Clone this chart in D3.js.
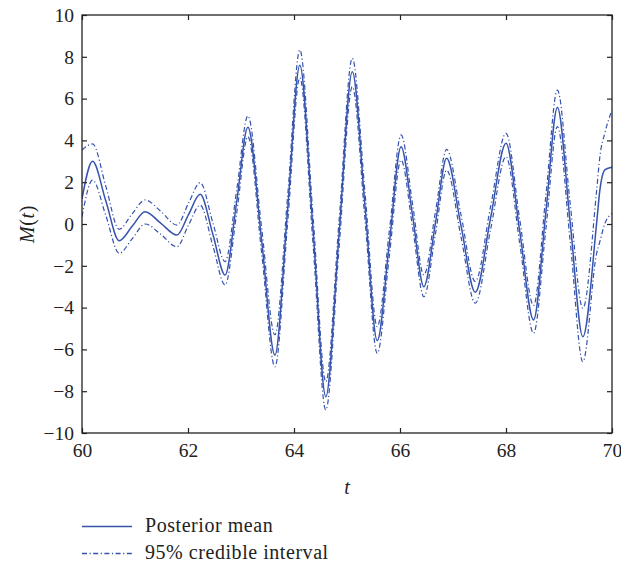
<!DOCTYPE html>
<html><head><meta charset="utf-8">
<script src="https://cdn.jsdelivr.net/npm/d3@7"></script>
<style>
html,body{margin:0;padding:0;background:#fff;}
svg{display:block;}
text{font-family:"Liberation Serif","DejaVu Serif",serif;fill:#222;}
</style></head>
<body>
<svg id="chart" width="621" height="565"></svg>
<script>
// time points (t)
const tValues = [60.00,60.20,60.45,60.70,60.95,61.19,61.49,61.79,62.01,62.23,62.47,62.70,62.92,63.13,63.39,63.64,63.88,64.11,64.36,64.60,64.85,65.10,65.34,65.57,65.80,66.02,66.24,66.45,66.67,66.88,67.15,67.42,67.71,68.00,68.26,68.52,68.75,68.97,69.21,69.45,69.71,69.77,69.87,70.00];
// posterior mean M(t)
const meanValues = [1.2,3.0,1.1,-0.8,-0.1,0.59,0.03,-0.53,0.45,1.42,-0.5,-2.44,1.1,4.63,-0.8,-6.27,0.7,7.6,-0.3,-8.26,-0.5,7.29,0.85,-5.58,-0.9,3.7,0.35,-3.0,0.07,3.14,-0.07,-3.27,0.3,3.86,-0.37,-4.59,0.5,5.58,0.1,-5.39,0.05,1.6,2.6,2.72];
// 95% credible interval, upper bound
const upperValues = [3.54,3.83,1.8,-0.25,0.5,1.15,0.6,-0.05,1.0,1.98,0.05,-1.8,1.65,5.17,-0.2,-5.3,1.35,8.33,0.35,-7.55,0.15,7.93,1.5,-4.91,-0.3,4.26,0.9,-2.44,0.6,3.57,0.45,-2.75,0.85,4.34,0.2,-3.9,1.3,6.41,1.0,-4.03,1.6,3.2,4.4,5.45];
// 95% credible interval, lower bound
const lowerValues = [0.35,2.1,0.4,-1.4,-0.7,0.0,-0.5,-1.09,-0.05,0.9,-1.05,-2.92,0.55,4.18,-1.4,-6.83,0.05,7.0,-1.0,-8.9,-1.15,6.57,0.2,-6.19,-1.5,3.06,-0.2,-3.48,-0.45,2.58,-0.6,-3.79,-0.25,3.22,-0.95,-5.23,-0.3,4.66,-0.8,-6.59,-1.4,-0.85,0.05,0.5];
const xTicks = [60,62,64,66,68,70];
const yTicks = [-10,-8,-6,-4,-2,0,2,4,6,8,10];
const legendLabels = ["Posterior mean","95% credible interval"];

const color = "#3653ad";
const serif = "'Liberation Serif', serif";
const m = {left:82, right:612, top:15, bottom:433};
const svg = d3.select("#chart");
const x = d3.scaleLinear().domain([60,70]).range([m.left,m.right]);
const y = d3.scaleLinear().domain([-10,10]).range([m.bottom,m.top]);

svg.append("clipPath").attr("id","clip").append("rect")
  .attr("x",m.left).attr("y",m.top).attr("width",m.right-m.left).attr("height",m.bottom-m.top);

function series(vals){ return tValues.map((t,i)=>[t,vals[i]]); }
const line = d3.line().x(d=>x(d[0])).y(d=>y(d[1])).curve(d3.curveMonotoneX);
const dash = "5,2.5,1.2,2.5";
const g = svg.append("g").attr("clip-path","url(#clip)");
g.append("path").datum(series(upperValues)).attr("d",line).attr("fill","none")
  .attr("stroke",color).attr("stroke-width",1.2).attr("stroke-dasharray",dash);
g.append("path").datum(series(lowerValues)).attr("d",line).attr("fill","none")
  .attr("stroke",color).attr("stroke-width",1.2).attr("stroke-dasharray",dash);
g.append("path").datum(series(meanValues)).attr("d",line).attr("fill","none")
  .attr("stroke",color).attr("stroke-width",1.5);

// axes with inward ticks
const tick = 5;
const ax = svg.append("g").attr("transform",`translate(0,${m.bottom})`)
  .call(d3.axisBottom(x).tickValues(xTicks).tickSizeInner(-tick).tickSizeOuter(0).tickPadding(10).tickFormat(d3.format("d")));
const axT = svg.append("g").attr("transform",`translate(0,${m.top})`)
  .call(d3.axisTop(x).tickValues(xTicks).tickSizeInner(-tick).tickSizeOuter(0).tickFormat(""));
const ay = svg.append("g").attr("transform",`translate(${m.left},0)`)
  .call(d3.axisLeft(y).tickValues(yTicks).tickSizeInner(-tick).tickSizeOuter(0).tickPadding(8).tickFormat(d=>d<0?"\u2212"+Math.abs(d):d));
const ayR = svg.append("g").attr("transform",`translate(${m.right},0)`)
  .call(d3.axisRight(y).tickValues(yTicks).tickSizeInner(-tick).tickSizeOuter(0).tickFormat(""));
[ax,axT,ay,ayR].forEach(a=>{
  a.attr("font-family",serif).attr("font-size",19.5);
  a.select(".domain").remove();
  a.selectAll("line").attr("stroke","#222").attr("stroke-width",1.2);
});
svg.selectAll(".tick text").attr("fill","#222").style("font-family",serif).style("font-size","19.5px");
svg.append("rect").attr("x",m.left).attr("y",m.top).attr("width",m.right-m.left).attr("height",m.bottom-m.top)
  .attr("fill","none").attr("stroke","#222").attr("stroke-width",1.3);

// axis titles
svg.append("text").attr("x",(m.left+m.right)/2).attr("y",494).attr("text-anchor","middle")
  .style("font-family",serif).style("font-size","20px").style("font-style","italic").text("t");
const yl = svg.append("text").attr("transform","translate(34,224) rotate(-90)").attr("text-anchor","middle")
  .style("font-family",serif).style("font-size","20px").style("letter-spacing","0.6px");
yl.append("tspan").style("font-style","italic").text("M");
yl.append("tspan").text("(");
yl.append("tspan").style("font-style","italic").text("t");
yl.append("tspan").text(")");

// legend
const lg = svg.append("g");
[0,1].forEach(i=>{
  const ly = 526.5 + i*27;
  lg.append("line").attr("x1",82).attr("x2",132).attr("y1",ly).attr("y2",ly)
    .attr("stroke",color).attr("stroke-width",1.3).attr("stroke-dasharray",i?dash:null);
  lg.append("text").attr("x",145).attr("y",ly+5.5).style("font-family",serif).style("font-size","20px")
    .style("letter-spacing","0.55px").text(legendLabels[i]);
});
</script>
</body></html>
